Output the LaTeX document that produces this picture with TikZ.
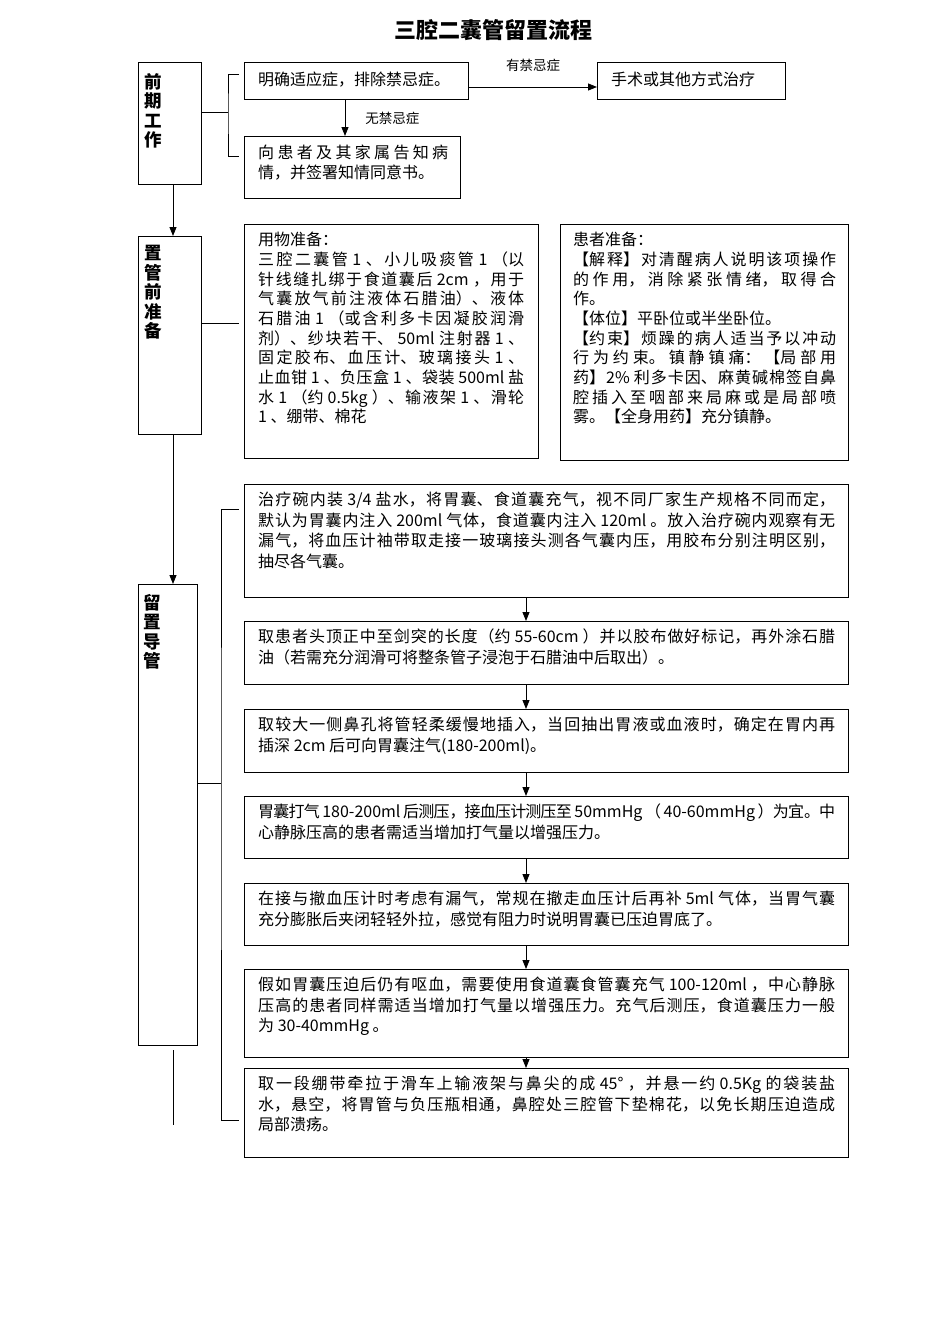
\documentclass[tikz,border=0pt]{standalone}
\usepackage{fontspec}
\setmainfont{Noto Sans CJK SC}
\usetikzlibrary{arrows.meta, positioning}
\XeTeXlinebreaklocale "zh"
\XeTeXlinebreakskip=0pt plus 4pt minus 1pt

\tikzset{
  frame/.style={draw, line width=1pt, inner sep=0pt, anchor=north west},
  phase/.style={font=\bfseries\fontsize{17.5pt}{19.5pt}\selectfont, align=center, inner sep=0pt},
  body/.style={inner sep=0pt, align=justify, font=\fontsize{16pt}{20.5pt}\selectfont},
  note/.style={body, font=\fontsize{16pt}{19.7pt}\selectfont},
  tag/.style={font=\fontsize{13.5pt}{15pt}\selectfont, inner sep=0pt},
  link/.style={line width=0.9pt},
  flow/.style={link, -{Triangle[length=9pt, width=7pt]}},
}

\begin{document}
\begin{tikzpicture}[x=1pt, y=-1pt]
  \useasboundingbox (0,0) rectangle (950,1344);
  \node[font=\bfseries\fontsize{22pt}{24pt}\selectfont] (title) at (493,30) {三腔二囊管留置流程};

  % stages on the left
  \node[frame, minimum width=63pt, minimum height=122pt] (prep) at (138,62) {};
  \node[frame, minimum width=63pt, minimum height=198pt] (pre) at (138,236) {};
  \node[frame, minimum width=59pt, minimum height=461pt] (keep) at (138,584) {};
  \node[phase, anchor=north west, below right=11pt and 6pt of prep.north west] (prepl) {前\\期\\工\\作};
  \node[phase, anchor=north west, below right=9pt and 6pt of pre.north west] (prel) {置\\管\\前\\准\\备};
  \node[phase, anchor=north west, below right=10pt and 5pt of keep.north west] (keepl) {留\\置\\导\\管};

  % early work
  \node[frame, minimum width=224pt, minimum height=37pt] (ind) at (244,62) {};
  \node[frame, minimum width=188pt, minimum height=37pt] (surg) at (597,62) {};
  \node[frame, minimum width=216pt, minimum height=62pt] (inform) at (244,136) {};
  \node[body, anchor=north west, below right=10pt and 14pt of ind.north west] (indt) {明确适应症，排除禁忌症。};
  \node[body, anchor=north west, below right=10pt and 14pt of surg.north west] (surgt) {手术或其他方式治疗};
  \node[body, text width=190pt, font=\fontsize{16pt}{20pt}\selectfont, anchor=north west,
        below right=9pt and 14pt of inform.north west] (informt)
    {向患者及其家属告知病\linebreak 情，并签署知情同意书。};

  % preparation
  \node[frame, minimum width=294pt, minimum height=234pt] (supply) at (244,224) {};
  \node[frame, minimum width=288pt, minimum height=236pt] (patient) at (560,224) {};
  \node[note, text width=266pt, anchor=north west, below right=8pt and 14pt of supply.north west] (supplyt)
    {用物准备：\\
     三腔二囊管 1 、小儿吸痰管 1 （以\linebreak
     针线缝扎绑于食道囊后 2cm ，用于\linebreak
     气囊放气前注液体石腊油）、液体\linebreak
     石腊油 1 （或含利多卡因凝胶润滑\linebreak
     剂）、纱块若干、 50ml 注射器 1 、\linebreak
     固定胶布、血压计、玻璃接头 1 、\linebreak
     止血钳 1 、负压盒 1 、袋装 500ml 盐\linebreak
     水 1 （约 0.5kg ）、输液架 1 、滑轮\linebreak
     1 、绷带、棉花};
  \node[note, text width=263pt, anchor=north west, below right=8pt and 13pt of patient.north west] (patientt)
    {患者准备：\\
     【解释】对清醒病人说明该项操作\linebreak
     的作用，消除紧张情绪，取得合\linebreak
     作。\\
     【体位】平卧位或半坐卧位。\\
     【约束】烦躁的病人适当予以冲动\linebreak
     行为约束。镇静镇痛：【局部用\linebreak
     药】2\% 利多卡因、麻黄碱棉签自鼻\linebreak
     腔插入至咽部来局麻或是局部喷\linebreak
     雾。【全身用药】充分镇静。};

  % catheter steps
  \foreach \n/\y/\h in {s1/484/113pt, s2/621/63pt, s3/709/63pt, s4/796/62pt,
                        s5/883/62pt, s6/969/88pt, s7/1068/89pt}
    \node[frame, minimum width=604pt, minimum height=\h] (\n) at (244,\y) {};
  \node[body, text width=577pt, anchor=north west, below right=8pt and 14pt of s1.north west] (s1t)
    {治疗碗内装 3/4 盐水，将胃囊、食道囊充气，视不同厂家生产规格不同而定，\linebreak
     默认为胃囊内注入 200ml 气体，食道囊内注入 120ml 。放入治疗碗内观察有无\linebreak
     漏气，将血压计袖带取走接一玻璃接头测各气囊内压，用胶布分别注明区别，\linebreak
     抽尽各气囊。};
  \node[body, text width=577pt, anchor=north west, below right=8pt and 14pt of s2.north west] (s2t)
    {取患者头顶正中至剑突的长度（约 55-60cm ）并以胶布做好标记，再外涂石腊\linebreak
     油（若需充分润滑可将整条管子浸泡于石腊油中后取出）。};
  \node[body, text width=577pt, anchor=north west, below right=8pt and 14pt of s3.north west] (s3t)
    {取较大一侧鼻孔将管轻柔缓慢地插入，当回抽出胃液或血液时，确定在胃内再\linebreak
     插深 2cm 后可向胃囊注气(180-200ml)。};
  \node[body, text width=577pt, anchor=north west, below right=8pt and 14pt of s4.north west] (s4t)
    {胃囊打气 180-200ml 后测压，接血压计测压至 50mmHg （ 40-60mmHg ）为宜。中\linebreak
     心静脉压高的患者需适当增加打气量以增强压力。};
  \node[body, text width=577pt, anchor=north west, below right=8pt and 14pt of s5.north west] (s5t)
    {在接与撤血压计时考虑有漏气，常规在撤走血压计后再补 5ml 气体，当胃气囊\linebreak
     充分膨胀后夹闭轻轻外拉，感觉有阻力时说明胃囊已压迫胃底了。};
  \node[body, text width=577pt, anchor=north west, below right=8pt and 14pt of s6.north west] (s6t)
    {假如胃囊压迫后仍有呕血，需要使用食道囊食管囊充气 100-120ml ，中心静脉\linebreak
     压高的患者同样需适当增加打气量以增强压力。充气后测压，食道囊压力一般\linebreak
     为 30-40mmHg 。};
  \node[body, text width=577pt, anchor=north west, below right=8pt and 14pt of s7.north west] (s7t)
    {取一段绷带牵拉于滑车上输液架与鼻尖的成 45° ，并悬一约 0.5Kg 的袋装盐\linebreak
     水，悬空，将胃管与负压瓶相通，鼻腔处三腔管下垫棉花，以免长期压迫造成\linebreak
     局部溃疡。};

  % helper points
  \coordinate (spine) at (173,0);
  \coordinate (drop) at (345,0);
  \coordinate (axis) at (526,0);
  \coordinate (fork1) at (228,112);
  \coordinate (top1) at (239,74);
  \coordinate (bot1) at (239,156);
  \coordinate (mid2) at (239,323);
  \coordinate (fork3) at (221,783);
  \coordinate (top3) at (239,509);
  \coordinate (bot3) at (239,1120);
  \coordinate (tailtop) at (173,1050);
  \coordinate (tailend) at (173,1125);

  % connectors
  \draw[flow] (prep.south -| spine) -- (pre.north -| spine);
  \draw[flow] (pre.south -| spine) -- (keep.north -| spine);
  \draw[link] (tailtop) -- (tailend);

  \draw[link] (prep.east |- fork1) -- (fork1);
  \draw[link] (top1) -| (fork1) |- (bot1);
  \draw[flow] ([yshift=-6pt]ind.east) -- ([yshift=-6pt]surg.west)
    node[tag, midway, above=15pt] (yes) {有禁忌症};
  \draw[flow] (ind.south -| drop) -- (inform.north -| drop)
    node[tag, midway, right=20pt] (no) {无禁忌症};

  \draw[link] (pre.east |- mid2) -- (mid2);

  \draw[link] (keep.east |- fork3) -- (fork3);
  \draw[link] (top3) -| (fork3) |- (bot3);
  \foreach \a/\b in {s1/s2, s2/s3, s3/s4, s4/s5, s5/s6, s6/s7}
    \draw[flow] (\a.south -| axis) -- (\b.north -| axis);
\end{tikzpicture}
\end{document}
